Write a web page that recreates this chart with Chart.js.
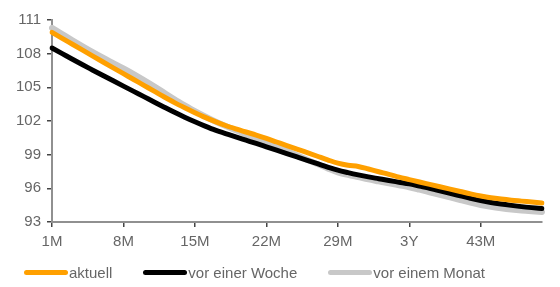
<!DOCTYPE html>
<html>
<head>
<meta charset="utf-8">
<script src="https://cdn.jsdelivr.net/npm/chart.js@4.4.1/dist/chart.umd.min.js"></script>
<style>
  html, body { margin: 0; padding: 0; background: #fff; }
  #wrap { position: relative; width: 560px; height: 287px; }
  #legend {
    position: absolute; left: 24px; top: 264px; display: flex;
    font: 15px "Liberation Sans", Arial, sans-serif; color: #666;
  }
  .item { display: flex; align-items: center; margin-right: 31px; }
  .swatch { width: 44px; height: 5px; border-radius: 3px; margin-right: 1px; }
</style>
</head>
<body>
<div id="wrap">
  <canvas id="curveChart" width="560" height="287"></canvas>
  <div id="legend"></div>
</div>
<script>
// Laufzeiten (Monate), 36M als 3Y beschriftet
const categories = [
  "1M", "2M", "3M", "4M", "5M", "6M", "7M", "8M", "9M", "10M",
  "11M", "12M", "13M", "14M", "15M", "16M", "17M", "18M", "19M", "20M",
  "21M", "22M", "23M", "24M", "25M", "26M", "27M", "28M", "29M", "30M",
  "31M", "32M", "33M", "34M", "35M", "3Y", "37M", "38M", "39M", "40M",
  "41M", "42M", "43M", "44M", "45M", "46M", "47M", "48M", "49M"
];
const tickLabels = ["1M", "8M", "15M", "22M", "29M", "3Y", "43M"];
const yTicks = [93, 96, 99, 102, 105, 108, 111];

const aktuell = [
  109.9, 109.37, 108.84, 108.31, 107.78, 107.26, 106.74, 106.22, 105.7, 105.18,
  104.66, 104.14, 103.64, 103.18, 102.74, 102.32, 101.94, 101.6, 101.3, 101.02,
  100.75, 100.45, 100.13, 99.81, 99.5, 99.18, 98.86, 98.54, 98.24, 98.05,
  97.95, 97.72, 97.48, 97.25, 97.0, 96.78, 96.56, 96.35, 96.14, 95.93,
  95.72, 95.51, 95.32, 95.16, 95.04, 94.94, 94.86, 94.78, 94.7
];
const vorEinerWoche = [
  108.5, 108.0, 107.5, 107.01, 106.53, 106.05, 105.58, 105.11, 104.64, 104.17,
  103.7, 103.23, 102.77, 102.34, 101.93, 101.54, 101.18, 100.88, 100.58, 100.29,
  100.0, 99.7, 99.4, 99.1, 98.8, 98.5, 98.2, 97.9, 97.62, 97.4,
  97.2, 97.02, 96.86, 96.7, 96.55, 96.4, 96.2, 96.0, 95.78, 95.55,
  95.33, 95.11, 94.91, 94.74, 94.6, 94.48, 94.37, 94.28, 94.2
];
const vorEinemMonat = [
  110.3, 109.75, 109.2, 108.66, 108.14, 107.64, 107.16, 106.68, 106.18, 105.65,
  105.1, 104.52, 103.94, 103.4, 102.88, 102.4, 101.95, 101.55, 101.17, 100.8,
  100.45, 100.08, 99.7, 99.32, 98.94, 98.55, 98.16, 97.78, 97.42, 97.2,
  97.0, 96.8, 96.62, 96.44, 96.27, 96.1, 95.88, 95.65, 95.42, 95.19,
  94.96, 94.73, 94.52, 94.36, 94.23, 94.12, 94.03, 93.96, 93.9
];

const FONT = { family: '"Liberation Sans", Arial, sans-serif', size: 15 };
const TICK_COLOR = "#666";
const AXIS_COLOR = "#909090";

function line(label, data, color, width) {
  return {
    label, data,
    borderColor: color, backgroundColor: color,
    borderWidth: width, pointRadius: 0,
    cubicInterpolationMode: "monotone",
    borderCapStyle: "round", fill: false,
  };
}

const chart = new Chart(document.getElementById("curveChart"), {
  type: "line",
  data: {
    labels: categories,
    datasets: [
      line("aktuell", aktuell, "#FFA000", 5),
      line("vor einer Woche", vorEinerWoche, "#000000", 5),
      line("vor einem Monat", vorEinemMonat, "#C8C8C8", 6),
    ],
  },
  options: {
    responsive: false,
    animation: false,
    layout: { padding: { top: 20, right: 18, bottom: 35, left: 0 } },
    plugins: { legend: { display: false }, tooltip: { enabled: false } },
    scales: {
      x: {
        afterFit: (s) => { s.height = 30; },
        border: { display: true, color: AXIS_COLOR, width: 2 },
        grid: {
          drawOnChartArea: false,
          tickLength: 5,
          lineWidth: 1.5,
          color: (ctx) => tickLabels.includes(categories[ctx.index]) ? "#444" : "rgba(0,0,0,0)",
        },
        ticks: {
          autoSkip: false, maxRotation: 0, color: TICK_COLOR, font: FONT, padding: 6,
          callback: function (v) {
            const l = this.getLabelForValue(v);
            return tickLabels.includes(l) ? l : "";
          },
        },
      },
      y: {
        min: yTicks[0], max: yTicks[yTicks.length - 1],
        afterFit: (s) => { s.width = 52; },
        afterBuildTicks: (s) => { s.ticks = yTicks.map((v) => ({ value: v })); },
        border: { display: true, color: AXIS_COLOR, width: 2 },
        grid: { drawOnChartArea: false, tickLength: 5, lineWidth: 1.5, color: "#444" },
        ticks: { color: TICK_COLOR, font: FONT, padding: 6 },
      },
    },
  },
});

// HTML-Legende aus den Datensätzen
const legend = document.getElementById("legend");
chart.data.datasets.forEach((ds) => {
  const item = document.createElement("div");
  item.className = "item";
  item.innerHTML = `<span class="swatch" style="background:${ds.borderColor}"></span><span>${ds.label}</span>`;
  legend.appendChild(item);
});
</script>
</body>
</html>
